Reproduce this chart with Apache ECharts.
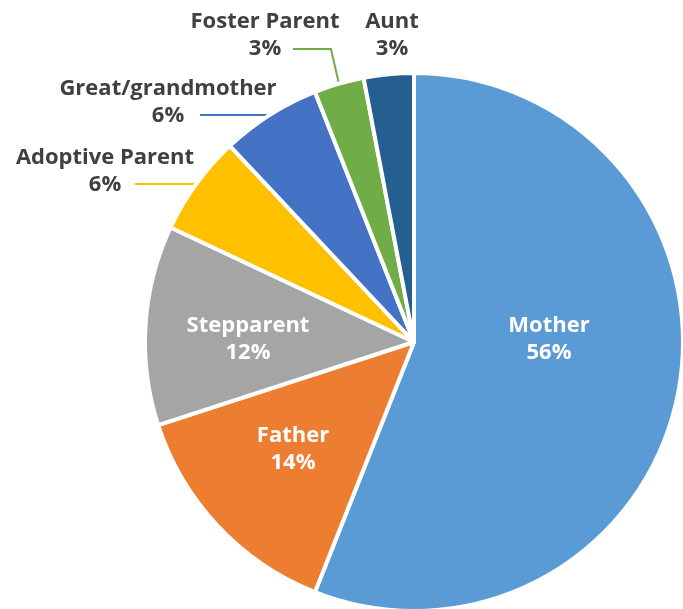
<!DOCTYPE html>
<html>
<head>
<meta charset="utf-8">
<script src="https://cdn.jsdelivr.net/npm/echarts@6/dist/echarts.min.js"></script>
<style>
    html, body { margin: 0; padding: 0; background: #fff; }
    #chart { width: 683px; height: 609px; }
</style>
</head>
<body>
<div id="chart"></div>
<script>
// data
const categories = ['Mother', 'Father', 'Stepparent', 'Adoptive Parent', 'Great/grandmother', 'Foster Parent', 'Aunt'];
const shares = [56, 14, 12, 6, 6, 3, 3];
const sliceColors = ['#5B9BD5', '#ED7D31', '#A5A5A5', '#FFC000', '#4472C4', '#70AD47', '#255E91'];
const insideLabels = ['Mother', 'Father', 'Stepparent'];

// where each label block sits (center of the text)
const labelSpots = {
    'Mother': [549, 339],
    'Father': [293, 449],
    'Stepparent': [248, 339],
    'Adoptive Parent': [105, 171],
    'Great/grandmother': [168, 102],
    'Foster Parent': [265, 35],
    'Aunt': [392, 35]
};

let myChart = echarts.init(document.getElementById('chart'));

let pieData = categories.map(function (name, i) {
    let inside = insideLabels.indexOf(name) >= 0;
    return {
        name: name,
        value: shares[i],
        itemStyle: { color: sliceColors[i] },
        label: {
            position: inside ? 'inside' : 'outside',
            color: inside ? '#ffffff' : '#404040'
        },
        labelLine: {
            show: !inside && name !== 'Aunt',
            lineStyle: { color: sliceColors[i], width: 2 }
        }
    };
});

let option = {
    animation: false,
    series: [{
        type: 'pie',
        center: [414, 342],
        radius: 269,
        startAngle: 90,
        clockwise: true,
        avoidLabelOverlap: false,
        itemStyle: { borderColor: '#ffffff', borderWidth: 4 },
        label: {
            formatter: '{b}\n{d}%',
            fontFamily: 'Open Sans',
            fontWeight: 'bold',
            fontSize: 22,
            lineHeight: 27,
            align: 'center'
        },
        labelLine: { length: 10, length2: 10 },
        labelLayout: function (params) {
            let name = categories[params.dataIndex];
            let spot = labelSpots[name];
            let out = {
                x: spot[0],
                y: spot[1],
                align: 'center',
                verticalAlign: 'middle'
            };
            let pts = params.labelLinePoints;
            if (pts && pts.length) {
                let edge = pts[0];
                if (name === 'Adoptive Parent') {
                    out.labelLinePoints = [edge, [135, edge[1]], [135, edge[1]]];
                } else if (name === 'Great/grandmother') {
                    out.labelLinePoints = [edge, [200, edge[1]], [200, edge[1]]];
                } else if (name === 'Foster Parent') {
                    out.labelLinePoints = [edge, [edge[0] - 8, 49], [293, 49]];
                }
            }
            return out;
        },
        data: pieData
    }]
};
myChart.setOption(option);
</script>
</body>
</html>
